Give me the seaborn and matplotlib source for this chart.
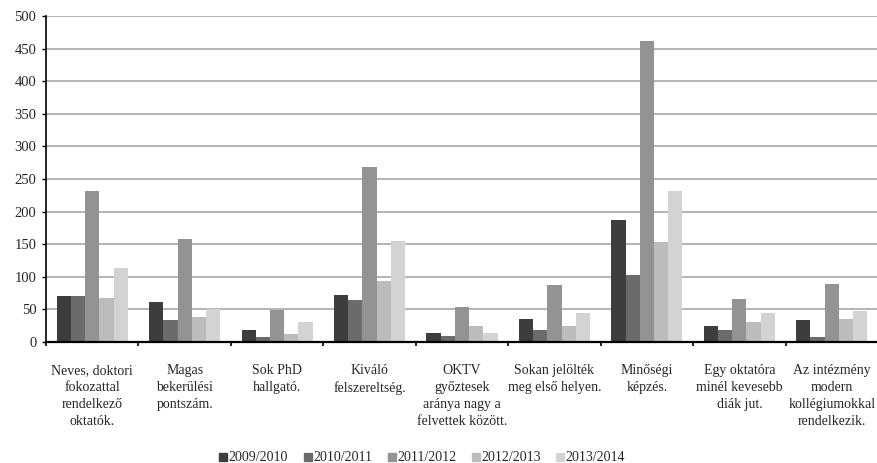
import matplotlib
matplotlib.use("Agg")
import matplotlib.pyplot as plt
import seaborn as sns
import pandas as pd
from matplotlib.lines import Line2D

categories = [
    "Neves, doktori\nfokozattal\nrendelkező\noktatók.",
    "Magas\nbekerülési\npontszám.",
    "Sok PhD\nhallgató.",
    "Kiváló\nfelszereltség.",
    "OKTV\ngyőztesek\naránya nagy a\nfelvettek között.",
    "Sokan jelölték\nmeg első helyen.",
    "Minőségi\nképzés.",
    "Egy oktatóra\nminél kevesebb\ndiák jut.",
    "Az intézmény\nmodern\nkollégiumokkal\nrendelkezik.",
]
years = ["2009/2010", "2010/2011", "2011/2012", "2012/2013", "2013/2014"]
v2009 = [70, 61, 18, 72, 14, 36, 187, 25, 34]
v2010 = [70, 33, 7, 65, 9, 18, 102, 18, 8]
v2011 = [231, 158, 49, 268, 53, 87, 461, 66, 89]
v2012 = [67, 38, 12, 94, 25, 25, 154, 31, 36]
v2013 = [114, 50, 31, 155, 14, 44, 231, 45, 47]
colors = ["#3d3d3d", "#6b6b6d", "#939396", "#bcbcbf", "#d3d3d5"]

series = [v2009, v2010, v2011, v2012, v2013]
rows = []
for y, vals in zip(years, series):
    for c, v in zip(categories, vals):
        rows.append({"cat": c, "year": y, "val": v})
df = pd.DataFrame(rows)

sns.set_style("white")
plt.rcParams["font.family"] = ["Liberation Serif", "DejaVu Serif"]

fig = plt.figure(figsize=(8.78, 4.63), dpi=100)
ax = fig.add_axes([46/878, 1-342/463, 1-46/878, (342-16)/463])

sns.barplot(data=df, x="cat", y="val", hue="year", hue_order=years,
            order=categories, palette=colors, width=0.77, gap=0,
            linewidth=0, saturation=1, ax=ax, legend=False, errorbar=None)

ax.set_ylim(0, 500)
ax.set_xlim(-0.5, len(categories) - 0.5)
ax.set_yticks(range(0, 501, 50))
ax.yaxis.grid(True, color="#a8a8a8", linewidth=1.2)
ax.set_axisbelow(True)
ax.set_xlabel("")
ax.set_ylabel("")
for s in ["top", "right"]:
    ax.spines[s].set_visible(False)
ax.spines["left"].set_color("black")
ax.spines["left"].set_linewidth(1.2)
ax.spines["bottom"].set_color("black")
ax.spines["bottom"].set_linewidth(1.6)

ax.set_xticks(range(len(categories)))
ax.set_xticklabels(categories, fontsize=10, linespacing=1.38)
ax.tick_params(axis="x", which="major", length=0, pad=16)
ax.set_xticks([i - 0.5 for i in range(len(categories) + 1)], minor=True)
ax.tick_params(axis="x", which="minor", length=3, width=1.2, color="black", direction="out", bottom=True)
ax.tick_params(axis="y", length=3, width=1, color="black", direction="out", left=True, labelsize=10.5, pad=4)

handles = [Line2D([0], [0], marker="s", linestyle="", markersize=5.5,
                  markerfacecolor=c, markeredgecolor=c) for c in colors]
fig.legend(handles, years, loc="lower center", bbox_to_anchor=(0.48, -0.03),
           ncol=5, frameon=False, fontsize=10, handletextpad=0.0,
           columnspacing=1.0, handlelength=0.8)

fig.savefig("out.png", dpi=100)
